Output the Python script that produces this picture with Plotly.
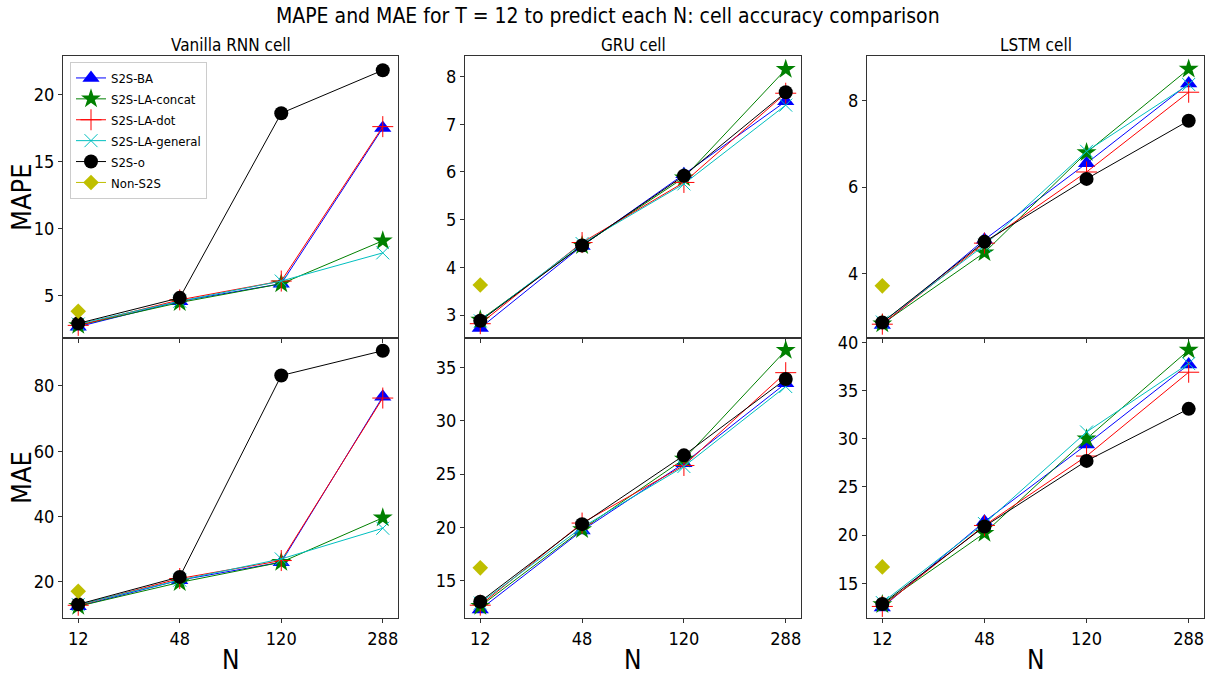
import plotly.graph_objects as go

N_labels = ["12", "48", "120", "288"]
series = ["S2S-BA", "S2S-LA-concat", "S2S-LA-dot", "S2S-LA-general", "S2S-o", "Non-S2S"]
cells = ["Vanilla RNN cell", "GRU cell", "LSTM cell"]

# MAPE values per cell
rnn_mape = {
    "S2S-BA": [2.7, 4.6, 5.9, 17.5],
    "S2S-LA-concat": [2.8, 4.5, 5.9, 9.1],
    "S2S-LA-dot": [2.8, 4.7, 6.1, 17.6],
    "S2S-LA-general": [2.9, 4.6, 6.1, 8.2],
    "S2S-o": [2.95, 4.85, 18.6, 21.8],
    "Non-S2S": [3.85],
}
gru_mape = {
    "S2S-BA": [2.73, 4.45, 5.95, 7.48],
    "S2S-LA-concat": [2.9, 4.46, 5.88, 8.15],
    "S2S-LA-dot": [2.82, 4.52, 5.78, 7.65],
    "S2S-LA-general": [2.88, 4.5, 5.75, 7.4],
    "S2S-o": [2.88, 4.46, 5.92, 7.67],
    "Non-S2S": [3.63],
}
lstm_mape = {
    "S2S-BA": [2.8, 4.78, 6.55, 8.4],
    "S2S-LA-concat": [2.83, 4.48, 6.8, 8.74],
    "S2S-LA-dot": [2.82, 4.7, 6.35, 8.2],
    "S2S-LA-general": [2.87, 4.65, 6.83, 8.38],
    "S2S-o": [2.86, 4.73, 6.19, 7.54],
    "Non-S2S": [3.71],
}
# MAE values per cell
rnn_mae = {
    "S2S-BA": [12.5, 20.5, 26.0, 76.7],
    "S2S-LA-concat": [12.5, 19.8, 26.0, 39.6],
    "S2S-LA-dot": [12.8, 21.0, 26.5, 76.3],
    "S2S-LA-general": [13.0, 20.5, 27.0, 36.4],
    "S2S-o": [13.1, 21.5, 83.2, 90.8],
    "Non-S2S": [17.1],
}
gru_mae = {
    "S2S-BA": [12.3, 19.7, 26.0, 33.5],
    "S2S-LA-concat": [12.6, 19.8, 26.4, 36.6],
    "S2S-LA-dot": [12.7, 20.4, 25.8, 34.5],
    "S2S-LA-general": [12.9, 20.0, 25.7, 33.2],
    "S2S-o": [13.03, 20.3, 26.75, 33.9],
    "Non-S2S": [16.2],
}
lstm_mae = {
    "S2S-BA": [12.5, 21.4, 29.4, 37.7],
    "S2S-LA-concat": [12.8, 20.2, 30.0, 39.2],
    "S2S-LA-dot": [12.6, 21.0, 28.2, 36.9],
    "S2S-LA-general": [13.0, 21.2, 30.7, 37.8],
    "S2S-o": [12.85, 20.9, 27.7, 33.1],
    "Non-S2S": [16.7],
}

mape_tables = [rnn_mape, gru_mape, lstm_mape]
mae_tables = [rnn_mae, gru_mae, lstm_mae]

styles = {
    "S2S-BA": dict(color="#0000ff", symbol="triangle-up", size=15),
    "S2S-LA-concat": dict(color="#008000", symbol="star", size=15),
    "S2S-LA-dot": dict(color="#ff0000", symbol="cross-thin", size=15),
    "S2S-LA-general": dict(color="#00bfbf", symbol="x-thin", size=13),
    "S2S-o": dict(color="#000000", symbol="circle", size=14),
    "Non-S2S": dict(color="#bfbf00", symbol="diamond", size=12),
}

FONT = "DejaVu Sans Condensed, DejaVu Sans"
W, H = 1212, 674


def px(sx):
    return sx / W


def py(sy):
    return 1 - sy / H


xpix = [(63, 398), (465, 801), (867, 1204)]
ypix = [(56, 338), (338, 618)]
mape_ranges = [[1.86, 22.86], [2.52, 8.43], [2.5, 9.04]]
mae_ranges = [[8.9, 94.7], [11.5, 37.75], [11.4, 40.45]]
mape_ticks = [[5, 10, 15, 20], [3, 4, 5, 6, 7, 8], [4, 6, 8]]
mae_ticks = [[20, 40, 60, 80], [15, 20, 25, 30, 35], [15, 20, 25, 30, 35, 40]]

fig = go.Figure()
layout = {}
ax = 0
for r in range(2):
    for c in range(3):
        ax += 1
        xa = "x" if ax == 1 else f"x{ax}"
        ya = "y" if ax == 1 else f"y{ax}"
        table = mape_tables[c] if r == 0 else mae_tables[c]
        for s in series:
            st = styles[s]
            vals = table[s]
            thin = st["symbol"] in ("cross-thin", "x-thin")
            fig.add_trace(go.Scatter(
                x=N_labels[:len(vals)], y=vals, mode="lines+markers", name=s,
                legendgroup=s, showlegend=(ax == 1),
                line=dict(color=st["color"], width=1),
                marker=dict(color=st["color"], symbol=st["symbol"], size=st["size"],
                            line=dict(color=st["color"], width=1 if thin else 0)),
                xaxis=xa, yaxis=ya,
            ))
        x0, x1 = xpix[c]
        y0, y1 = ypix[r]
        xkey = "xaxis" if ax == 1 else f"xaxis{ax}"
        ykey = "yaxis" if ax == 1 else f"yaxis{ax}"
        layout[xkey] = dict(
            domain=[px(x0), px(x1)], anchor=ya, type="category",
            categoryorder="array", categoryarray=N_labels, automargin=False,
            range=[-0.15, 3.15], showline=True, mirror=True, linecolor="#333333",
            linewidth=1, ticks="outside", ticklen=4, tickcolor="#333333",
            showgrid=False, zeroline=False, showticklabels=(r == 1),
            tickfont=dict(family=FONT, size=18, color="black"),
        )
        layout[ykey] = dict(
            domain=[py(y1), py(y0)], anchor=xa, automargin=False,
            range=(mape_ranges if r == 0 else mae_ranges)[c],
            tickvals=(mape_ticks if r == 0 else mae_ticks)[c],
            showline=True, mirror=True, linecolor="#333333", linewidth=1,
            ticks="outside", ticklen=4, tickcolor="#333333",
            showgrid=False, zeroline=False,
            tickfont=dict(family=FONT, size=18, color="black"),
        )

annotations = [
    dict(text="MAPE and MAE for T = 12 to predict each N: cell accuracy comparison",
         x=px(608), y=py(16), xref="paper", yref="paper",
         showarrow=False, font=dict(family=FONT, size=21, color="black"),
         xanchor="center", yanchor="middle"),
]
for c in range(3):
    x0, x1 = xpix[c]
    annotations.append(dict(text=cells[c], x=px((x0 + x1) / 2), y=py(45),
                            xref="paper", yref="paper", showarrow=False,
                            font=dict(family=FONT, size=17, color="black"),
                            xanchor="center", yanchor="middle"))
    annotations.append(dict(text="N", x=px((x0 + x1) / 2), y=py(660),
                            xref="paper", yref="paper", showarrow=False,
                            font=dict(family=FONT, size=26, color="black"),
                            xanchor="center", yanchor="middle"))
for r, lab in enumerate(["MAPE", "MAE"]):
    y0, y1 = ypix[r]
    annotations.append(dict(text=lab, x=px(22), y=py((y0 + y1) / 2),
                            xref="paper", yref="paper", showarrow=False, textangle=-90,
                            font=dict(family=FONT, size=27, color="black"),
                            xanchor="center", yanchor="middle"))

fig.update_layout(
    width=W, height=H, margin=dict(l=0, r=0, t=0, b=0),
    paper_bgcolor="white", plot_bgcolor="white",
    annotations=annotations,
    legend=dict(x=px(70), y=py(62), xanchor="left", yanchor="top",
                bgcolor="rgba(255,255,255,0.8)", bordercolor="#cccccc", borderwidth=1,
                font=dict(family=FONT, size=13, color="black"),
                traceorder="grouped", tracegroupgap=1, itemwidth=30),
    **layout,
)
fig.write_html("out.html", config={"displayModeBar": False},
               post_script="document.body.style.margin='0';")
